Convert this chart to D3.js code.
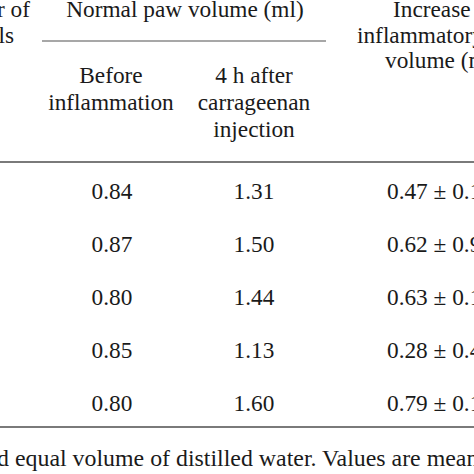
<!DOCTYPE html>
<html><head><meta charset="utf-8">
<script src="https://cdn.jsdelivr.net/npm/d3@7"></script>
<style>
html,body{margin:0;padding:0;background:#fff;overflow:hidden;}
svg{display:block;}
text{font-family:"Liberation Serif","Times New Roman",serif;font-size:23.3px;fill:#1a1a1a;}
</style></head>
<body>
<script>
const beforeInflammation = ["0.84","0.87","0.80","0.85","0.80"];
const afterCarrageenan = ["1.31","1.50","1.44","1.13","1.60"];
const increaseVolume = ["0.47 ± 0.12","0.62 ± 0.91","0.63 ± 0.15","0.28 ± 0.45","0.79 ± 0.13"];
const rowIndex = [0,1,2,3,4];
const headerLeft = ["Number of","animals"];
const headerGroup = "Normal paw volume (ml)";
const headerBefore = ["Before","inflammation"];
const headerAfter = ["4 h after","carrageenan","injection"];
const headerIncrease = ["Increase in","inflammatory paw","volume (ml)"];
const footnote = "d equal volume of distilled water. Values are means ± S.E.M.";

const W = 474, H = 474;
const svg = d3.select("body").append("svg").attr("width", W).attr("height", H);

const y = d3.scalePoint().domain(rowIndex).range([199, 411]);
const colX = {before: 111, after: 254, inc: 387};

function lines(arr, xs, y0, dy, anchor){
  svg.append("g").selectAll("text").data(arr).join("text")
    .attr("x", (d,i)=>Array.isArray(xs)?xs[i]:xs).attr("y", (d,i)=>y0+i*dy).attr("text-anchor", anchor).text(d=>d);
}
lines(headerLeft, [30, 14], 17, 26, "end");
lines([headerGroup], 185, 17, 26, "middle");
lines(headerBefore, colX.before, 83, 27, "middle");
lines(headerAfter, colX.after, 83, 27, "middle");
lines(headerIncrease, [393, 357, 385], 17, 25.5, "start");

svg.append("line").attr("x1",42).attr("x2",326).attr("y1",41).attr("y2",41)
  .attr("stroke","#8a8a8a").attr("stroke-width",1.5);
svg.append("line").attr("x1",0).attr("x2",W).attr("y1",162).attr("y2",162)
  .attr("stroke","#7a7a7a").attr("stroke-width",2);
svg.append("line").attr("x1",0).attr("x2",W).attr("y1",427).attr("y2",427)
  .attr("stroke","#7a7a7a").attr("stroke-width",2);

svg.append("g").selectAll("text").data(beforeInflammation).join("text")
  .attr("x", colX.before+1).attr("y",(d,i)=>y(i)).attr("text-anchor","middle").text(d=>d);
svg.append("g").selectAll("text").data(afterCarrageenan).join("text")
  .attr("x", colX.after).attr("y",(d,i)=>y(i)).attr("text-anchor","middle").text(d=>d);
svg.append("g").selectAll("text").data(increaseVolume).join("text")
  .attr("x", colX.inc).attr("y",(d,i)=>y(i)).attr("text-anchor","start").text(d=>d);

// footnote: fit so "equal" starts at x=15 and "Values" at x=322
const fn = svg.append("text").attr("x",0).attr("y",466).text(footnote);
const iEq = footnote.indexOf("equal"), iVal = footnote.indexOf("Values");
const n = fn.node();
const d0 = n.getSubStringLength(0, iVal) - n.getSubStringLength(0, iEq);
const fs = 23.3 * 307 / d0;
fn.style("font-size", fs + "px");
fn.attr("x", 15 - n.getSubStringLength(0, iEq));
</script>
</body></html>
